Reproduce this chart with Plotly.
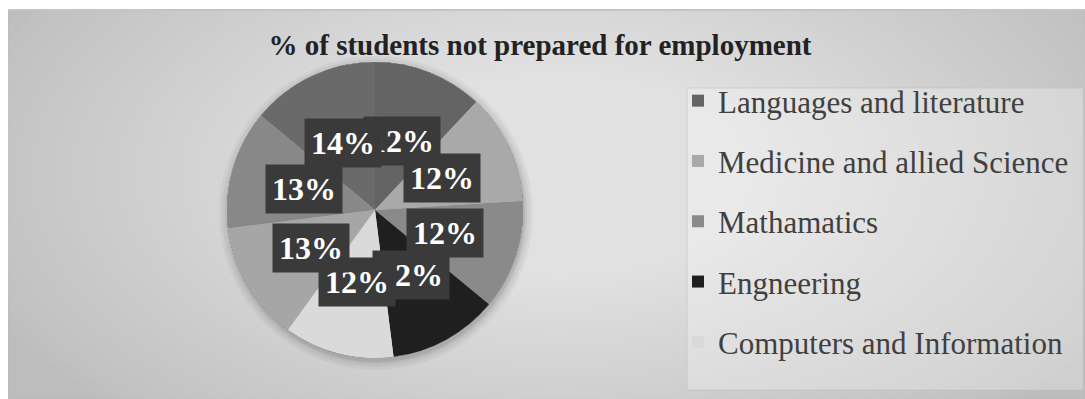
import numpy as np
import plotly.graph_objects as go

# ---- data ----
categories = ["Languages and literature", "Medicine and allied Science", "Mathamatics",
              "Engneering", "Computers and Information", "Category 6", "Category 7", "Category 8"]
values = [12, 12, 12, 12, 12, 13, 13, 14]
pct_labels = ["12%", "12%", "12%", "12%", "12%", "13%", "13%", "14%"]
slice_colors = ["#646464", "#a9a9a9", "#8a8a8a", "#1f1f1f", "#dadada", "#a6a6a6", "#888888", "#6a6a6a"]
legend_count = 5
title_text = "% of students not prepared for employment"

# ---- layout geometry (pixels) ----
W, H = 1085, 399
cx, cy, R = 375, 210, 148
SERIF = "Liberation Serif, Times New Roman, serif"

def px(x):
    return x / W

def py(y):
    return 1 - y / H

dom_x = [px(cx - R), px(cx + R)]
dom_y = [py(cy + R), py(cy - R)]

fig = go.Figure()

# legend-only pies hidden under the main pie
for i in range(legend_count):
    fig.add_trace(go.Pie(
        labels=[categories[i]], values=[1], marker=dict(colors=[slice_colors[i]], line=dict(width=0)),
        domain=dict(x=dom_x, y=dom_y), textinfo="none", hoverinfo="skip",
        showlegend=True, legendgroup=f"g{i}", sort=False))

fig.add_trace(go.Pie(
    labels=categories, values=values, marker=dict(colors=slice_colors, line=dict(width=0)),
    domain=dict(x=dom_x, y=dom_y), textinfo="none", sort=False,
    direction="clockwise", rotation=0, showlegend=False))

# background: chart area with radial-ish gradient
shapes = [dict(type="rect", xref="paper", yref="paper", x0=px(8), x1=px(1085), y0=py(399), y1=py(10),
               fillcolor="#bdbdbd", line=dict(color="#b8b8b8", width=1), layer="below")]
N = 48
gx, gy, rx, ry = 560, 175, 620, 330
for k in range(N):
    s = (N - k) / N
    shapes.append(dict(type="circle", xref="paper", yref="paper",
                       x0=px(gx - rx * s), x1=px(gx + rx * s), y0=py(gy + ry * s), y1=py(gy - ry * s),
                       fillcolor="white", opacity=0.033, line=dict(width=0), layer="below"))
# cover outside of chart area (top strip and left strip)
shapes.append(dict(type="rect", xref="paper", yref="paper", x0=0, x1=1, y0=py(10), y1=1.02,
                   fillcolor="white", line=dict(width=0), layer="below"))
shapes.append(dict(type="rect", xref="paper", yref="paper", x0=-0.01, x1=px(8), y0=-0.02, y1=1.02,
                   fillcolor="white", line=dict(width=0), layer="below"))
shapes.append(dict(type="line", xref="paper", yref="paper", x0=px(8), x1=1, y0=py(10), y1=py(10),
                   line=dict(color="#c4c4c4", width=2), layer="below"))
# pie shadow
for d, o in [(9, 0.06), (6, 0.08), (3, 0.1), (1, 0.12)]:
    shapes.append(dict(type="circle", xref="paper", yref="paper",
                       x0=px(cx - R - d + 1), x1=px(cx + R + d + 1), y0=py(cy + R + d + 3), y1=py(cy - R - d + 3),
                       fillcolor="#555555", opacity=o, line=dict(width=0), layer="below"))
# legend panel
shapes.append(dict(type="rect", xref="paper", yref="paper", x0=px(687), x1=px(1083), y0=py(390), y1=py(88),
                   fillcolor="rgba(255,255,255,0.28)", line=dict(color="rgba(190,190,190,0.6)", width=1),
                   layer="below"))

# data labels (boxes) placed at mid-angle of each slice
ann = []
total = sum(values)
cum = np.cumsum([0] + values)
for i, (v, lab) in enumerate(zip(values, pct_labels)):
    mid = (cum[i] + v / 2) / total * 2 * np.pi
    lx = cx + 0.5 * R * np.sin(mid)
    ly = cy - 0.5 * R * np.cos(mid)
    ann.append(dict(x=px(lx), y=py(ly), xref="paper", yref="paper", text=f"<b>{lab}</b>",
                    showarrow=False, bgcolor="#3a3a3a", borderpad=6,
                    font=dict(family=SERIF, size=32, color="white"),
                    xanchor="center", yanchor="middle"))

fig.update_layout(
    width=W, height=H, margin=dict(l=0, r=0, t=0, b=0),
    paper_bgcolor="white", plot_bgcolor="white",
    shapes=shapes, annotations=ann,
    title=dict(text=f"<b>{title_text}</b>", x=px(540), y=py(45), xanchor="center", yanchor="middle",
               font=dict(family=SERIF, size=29, color="#222222")),
    legend=dict(x=px(678), y=py(74), xanchor="left", yanchor="top", bgcolor="rgba(0,0,0,0)",
                font=dict(family=SERIF, size=31, color="#404040"),
                tracegroupgap=17, itemclick=False, itemdoubleclick=False),
    showlegend=True,
)

fig.write_html("out.html")
